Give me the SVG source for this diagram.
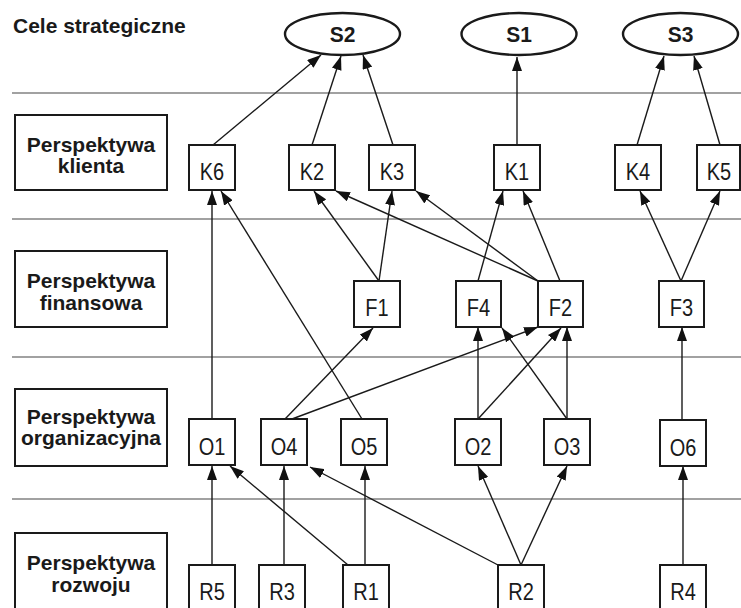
<svg xmlns="http://www.w3.org/2000/svg" width="741" height="608" viewBox="0 0 741 608">
<style>
.bg{fill:#fff}
.sep{stroke:#444;stroke-width:1.2;fill:none}
.lbl{fill:#fff;stroke:#1a1a1a;stroke-width:2}
.lt{font-family:"Liberation Sans",Arial,sans-serif;font-weight:bold;font-size:21px;fill:#1a1a1a;text-anchor:middle}
.nb{fill:#fff;stroke:#1a1a1a;stroke-width:2}
.el{fill:#fff;stroke:#1a1a1a;stroke-width:2.4}
.nt{font-family:"Liberation Sans",Arial,sans-serif;font-size:20px;fill:#1a1a1a;text-anchor:middle}
.st{font-family:"Liberation Sans",Arial,sans-serif;font-weight:bold;font-size:21px;fill:#1a1a1a;text-anchor:middle}
.ed{stroke:#1a1a1a;stroke-width:1.4;fill:none;marker-end:url(#ah)}
</style>
<defs>
<marker id="ah" viewBox="0 0 14 10" refX="14" refY="5" markerWidth="14" markerHeight="10" orient="auto" markerUnits="userSpaceOnUse">
<path d="M0,0 L14,5 L0,10 Z" fill="#111"/>
</marker>
</defs>
<rect class="bg" x="0" y="0" width="741" height="608"/>
<g id="separators">
<line class="sep" x1="12" y1="93" x2="741" y2="93"/>
<line class="sep" x1="12" y1="219" x2="741" y2="219"/>
<line class="sep" x1="12" y1="357" x2="741" y2="357"/>
<line class="sep" x1="12" y1="499" x2="741" y2="499"/>
</g>
<g id="title"><text x="13" y="33" style="font-family:'Liberation Sans',Arial,sans-serif;font-weight:bold;font-size:21px;fill:#1a1a1a">Cele strategiczne</text></g>
<g id="lane-klienta"><rect class="lbl" x="15" y="115" width="152" height="75"/><text class="lt" x="91" y="152">Perspektywa</text><text class="lt" x="91" y="173">klienta</text></g>
<g id="lane-finansowa"><rect class="lbl" x="15" y="251" width="152" height="76"/><text class="lt" x="91" y="288">Perspektywa</text><text class="lt" x="91" y="310">finansowa</text></g>
<g id="lane-organizacyjna"><rect class="lbl" x="15" y="389" width="152" height="77"/><text class="lt" x="91" y="424">Perspektywa</text><text class="lt" x="91" y="445">organizacyjna</text></g>
<g id="lane-rozwoju"><rect class="lbl" x="15" y="533" width="152" height="80"/><text class="lt" x="91" y="570">Perspektywa</text><text class="lt" x="91" y="592">rozwoju</text></g>

<g id="connectors">
<line class="ed" x1="213" y1="145" x2="321" y2="55"/>
<line class="ed" x1="312" y1="145" x2="341" y2="56"/>
<line class="ed" x1="393" y1="145" x2="363" y2="55"/>
<line class="ed" x1="517" y1="145" x2="517" y2="57"/>
<line class="ed" x1="637" y1="145" x2="664" y2="56"/>
<line class="ed" x1="720" y1="145" x2="694" y2="56"/>
<line class="ed" x1="379" y1="281" x2="314" y2="191"/>
<line class="ed" x1="379" y1="281" x2="392" y2="191"/>
<line class="ed" x1="538" y1="281" x2="336" y2="191"/>
<line class="ed" x1="538" y1="281" x2="416" y2="191"/>
<line class="ed" x1="478" y1="281" x2="503" y2="191"/>
<line class="ed" x1="560" y1="281" x2="523" y2="191"/>
<line class="ed" x1="681" y1="281" x2="640" y2="191"/>
<line class="ed" x1="681" y1="281" x2="720" y2="191"/>
<line class="ed" x1="212" y1="419" x2="212" y2="191"/>
<line class="ed" x1="362" y1="419" x2="221" y2="191"/>
<line class="ed" x1="285" y1="419" x2="373" y2="328"/>
<line class="ed" x1="292" y1="419" x2="538" y2="327"/>
<line class="ed" x1="478" y1="419" x2="478" y2="327"/>
<line class="ed" x1="478" y1="419" x2="561" y2="328"/>
<line class="ed" x1="567" y1="419" x2="502" y2="328"/>
<line class="ed" x1="567" y1="419" x2="567" y2="327"/>
<line class="ed" x1="682" y1="419" x2="682" y2="327"/>
<line class="ed" x1="212" y1="565" x2="212" y2="466"/>
<line class="ed" x1="348" y1="565" x2="230" y2="466"/>
<line class="ed" x1="284" y1="565" x2="284" y2="466"/>
<line class="ed" x1="365" y1="565" x2="365" y2="466"/>
<line class="ed" x1="498" y1="565" x2="310" y2="467"/>
<line class="ed" x1="521" y1="565" x2="478" y2="466"/>
<line class="ed" x1="521" y1="565" x2="567" y2="466"/>
<line class="ed" x1="683" y1="565" x2="683" y2="466"/>
</g>

<g id="S2"><ellipse class="el" cx="342.5" cy="34" rx="57.5" ry="21"/><text class="st" transform="translate(342.5,42) scale(1,1.05)">S2</text></g>
<g id="S1"><ellipse class="el" cx="519" cy="34" rx="57.5" ry="21"/><text class="st" transform="translate(519,42) scale(1,1.05)">S1</text></g>
<g id="S3"><ellipse class="el" cx="680.5" cy="34" rx="57.5" ry="21"/><text class="st" transform="translate(680.5,42) scale(1,1.05)">S3</text></g>

<g id="K6"><rect class="nb" x="189" y="145" width="46" height="45"/><text class="nt" transform="translate(212,180) scale(1,1.2)">K6</text></g>
<g id="K2"><rect class="nb" x="289" y="145" width="46" height="45"/><text class="nt" transform="translate(312,180) scale(1,1.2)">K2</text></g>
<g id="K3"><rect class="nb" x="369" y="145" width="46" height="45"/><text class="nt" transform="translate(392,180) scale(1,1.2)">K3</text></g>
<g id="K1"><rect class="nb" x="494" y="145" width="46" height="45"/><text class="nt" transform="translate(517,180) scale(1,1.2)">K1</text></g>
<g id="K4"><rect class="nb" x="615" y="145" width="46" height="45"/><text class="nt" transform="translate(638,180) scale(1,1.2)">K4</text></g>
<g id="K5"><rect class="nb" x="697" y="145" width="43" height="45"/><text class="nt" transform="translate(719,180) scale(1,1.2)">K5</text></g>

<g id="F1"><rect class="nb" x="354" y="281" width="46" height="46"/><text class="nt" transform="translate(377,316) scale(1,1.2)">F1</text></g>
<g id="F4"><rect class="nb" x="456" y="281" width="45" height="46"/><text class="nt" transform="translate(478.5,316) scale(1,1.2)">F4</text></g>
<g id="F2"><rect class="nb" x="538" y="281" width="45" height="46"/><text class="nt" transform="translate(560.5,316) scale(1,1.2)">F2</text></g>
<g id="F3"><rect class="nb" x="659" y="281" width="45" height="46"/><text class="nt" transform="translate(681.5,316) scale(1,1.2)">F3</text></g>

<g id="O1"><rect class="nb" x="189" y="419" width="46" height="46"/><text class="nt" transform="translate(212,455) scale(1,1.2)">O1</text></g>
<g id="O4"><rect class="nb" x="261" y="419" width="46" height="46"/><text class="nt" transform="translate(284,455) scale(1,1.2)">O4</text></g>
<g id="O5"><rect class="nb" x="341" y="419" width="46" height="46"/><text class="nt" transform="translate(364,455) scale(1,1.2)">O5</text></g>
<g id="O2"><rect class="nb" x="455" y="419" width="46" height="46"/><text class="nt" transform="translate(478,455) scale(1,1.2)">O2</text></g>
<g id="O3"><rect class="nb" x="544" y="419" width="46" height="46"/><text class="nt" transform="translate(567,455) scale(1,1.2)">O3</text></g>
<g id="O6"><rect class="nb" x="660" y="420" width="46" height="46"/><text class="nt" transform="translate(683,456) scale(1,1.2)">O6</text></g>

<g id="R5"><rect class="nb" x="189" y="565" width="46" height="48"/><text class="nt" transform="translate(212,600) scale(1,1.2)">R5</text></g>
<g id="R3"><rect class="nb" x="259" y="565" width="46" height="48"/><text class="nt" transform="translate(282,600) scale(1,1.2)">R3</text></g>
<g id="R1"><rect class="nb" x="343" y="565" width="46" height="48"/><text class="nt" transform="translate(366,600) scale(1,1.2)">R1</text></g>
<g id="R2"><rect class="nb" x="498" y="565" width="46" height="48"/><text class="nt" transform="translate(521,600) scale(1,1.2)">R2</text></g>
<g id="R4"><rect class="nb" x="660" y="565" width="46" height="48"/><text class="nt" transform="translate(683,600) scale(1,1.2)">R4</text></g>
</svg>
